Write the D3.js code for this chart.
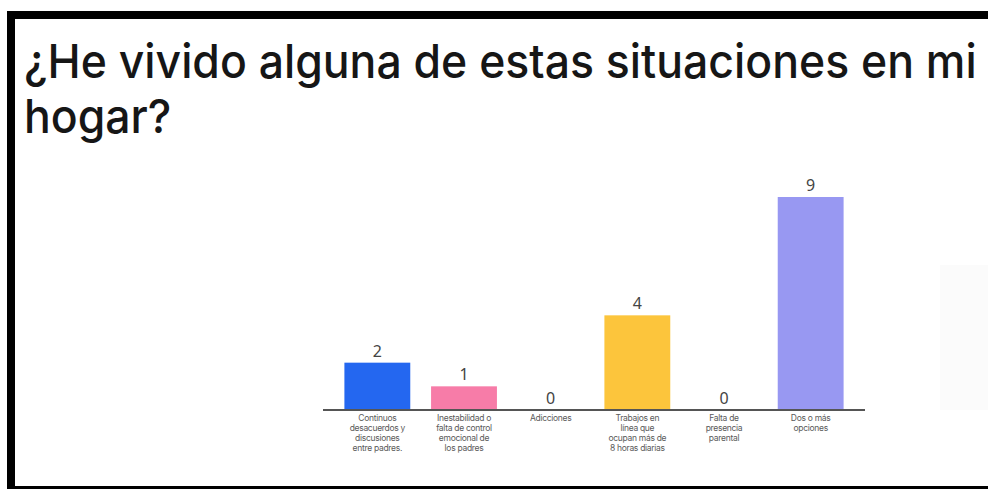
<!DOCTYPE html>
<html>
<head>
<meta charset="utf-8">
<script src="https://cdn.jsdelivr.net/npm/d3@7"></script>
<style>
  html, body { margin: 0; padding: 0; background: #fff; }
  svg { display: block; }
</style>
</head>
<body>
<svg id="chart" width="988" height="489"></svg>
<script>
const titleLines = ["¿He vivido alguna de estas situaciones en mi", "hogar?"];
const categories = [
  ["Continuos", "desacuerdos y", "discusiones", "entre padres."],
  ["Inestabilidad o", "falta de control", "emocional de", "los padres"],
  ["Adicciones"],
  ["Trabajos en", "línea que", "ocupan más de", "8 horas diarias"],
  ["Falta de", "presencia", "parental"],
  ["Dos o más", "opciones"]
];
const values = [2, 1, 0, 4, 0, 9];
const barColors = ["#2467f0", "#f77ca8", "#cccccc", "#fcc53c", "#cccccc", "#9898f2"];

const svg = d3.select("#chart");

// frame
svg.append("rect").attr("x", 0).attr("y", 0).attr("width", 988).attr("height", 489).attr("fill", "#fff");
svg.append("rect").attr("x", 7).attr("y", 11).attr("width", 981).attr("height", 8).attr("fill", "#000");
svg.append("rect").attr("x", 7).attr("y", 11).attr("width", 8).attr("height", 478).attr("fill", "#000");
svg.append("rect").attr("x", 7).attr("y", 486).attr("width", 981).attr("height", 3).attr("fill", "#000");
svg.append("rect").attr("x", 940).attr("y", 265).attr("width", 48).attr("height", 145).attr("fill", "#fbfbfb");

// title
const tg = svg.append("g");
const t1 = tg.append("text").attr("x", 0).attr("y", 78)
  .attr("font-family", "Inter, 'Noto Sans', sans-serif").attr("font-size", 47)
  .attr("font-weight", 500)
  .attr("fill", "#161616").text(titleLines[0]);
tg.append("text").attr("x", 0).attr("y", 133)
  .attr("font-family", "Inter, 'Noto Sans', sans-serif").attr("font-size", 47)
  .attr("font-weight", 500)
  .attr("fill", "#161616").text(titleLines[1]);
const w1 = t1.node().getComputedTextLength();
const sx = 953 / w1;
tg.attr("transform", `translate(24,0) scale(${sx},1)`);

// scales
const x = d3.scaleBand().domain(d3.range(categories.length))
  .range([334, 854]).paddingInner(0.24).paddingOuter(0.12);
const y = d3.scaleLinear().domain([0, d3.max(values)]).range([410, 197]);

// bars
svg.append("g").selectAll("rect").data(values).join("rect")
  .attr("x", (d, i) => x(i))
  .attr("y", d => y(d))
  .attr("width", x.bandwidth())
  .attr("height", d => y(0) - y(d))
  .attr("fill", (d, i) => barColors[i]);

// baseline axis
const axis = svg.append("g").attr("transform", `translate(0,${y(0)})`)
  .call(d3.axisBottom(x).tickSize(0).tickFormat(""));
axis.select(".domain").attr("d", "M323,0H865").attr("stroke", "#555").attr("stroke-width", 2);

// value labels
svg.append("g").selectAll("text").data(values).join("text")
  .attr("x", (d, i) => x(i) + x.bandwidth() / 2)
  .attr("y", d => y(d) - 6)
  .attr("text-anchor", "middle")
  .attr("font-family", "'Noto Sans', Inter, sans-serif")
  .attr("font-size", 16)
  .attr("fill", "#444")
  .text(d => d);

// category labels
const cl = svg.append("g").selectAll("text").data(categories).join("text")
  .attr("x", (d, i) => x(i) + x.bandwidth() / 2)
  .attr("y", 421)
  .attr("text-anchor", "middle")
  .attr("font-family", "Inter, 'Noto Sans', sans-serif")
  .attr("font-size", 8.5)
  .attr("letter-spacing", -0.3)
  .attr("fill", "#5a5a5a");
cl.each(function(d, i) {
  d3.select(this).selectAll("tspan").data(d).join("tspan")
    .attr("x", x(i) + x.bandwidth() / 2)
    .attr("dy", (t, j) => j === 0 ? 0 : 10)
    .text(t => t);
});
</script>
</body>
</html>
